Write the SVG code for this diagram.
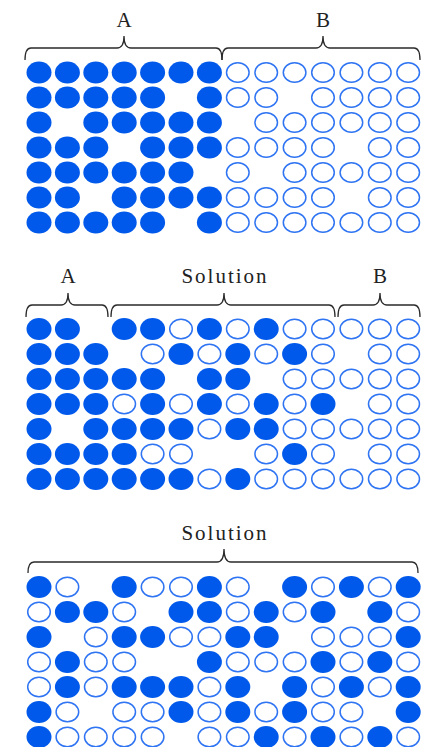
<svg xmlns="http://www.w3.org/2000/svg" width="429" height="747" viewBox="0 0 429 747">
<style>
.f{fill:#0059EB}
.o{fill:none;stroke:#2F74F2;stroke-width:1.5}
.br{fill:none;stroke:#2a2a2a;stroke-width:1.3}
.lb{font-family:"Liberation Serif","Times New Roman",serif;font-size:21px;fill:#222;text-anchor:middle}
</style>
<defs>
<ellipse id="F" class="f" rx="12.5" ry="11"/>
<ellipse id="O" class="o" rx="11.3" ry="9.8"/>
</defs>
<g id="connectors">
<path class="br" d="M25 60 Q25 48 31 48 L117 48 Q124 48 124 36 Q124 48 131 48 L216 48 Q222 48 222 60"/>
<path class="br" d="M222 60 Q222 48 228 48 L316 48 Q323 48 323 36 Q323 48 330 48 L414 48 Q420 48 420 60"/>
<path class="br" d="M26 317 Q26 305 32 305 L61 305 Q68 305 68 293 Q68 305 75 305 L102 305 Q108 305 108 317"/>
<path class="br" d="M111 317 Q111 305 117 305 L217 305 Q224 305 224 293 Q224 305 231 305 L329 305 Q335 305 335 317"/>
<path class="br" d="M338 317 Q338 305 344 305 L373 305 Q380 305 380 293 Q380 305 387 305 L414 305 Q420 305 420 317"/>
<path class="br" d="M28 573 Q28 562 34 562 L217 562 Q224 562 224 549 Q224 562 231 562 L412 562 Q418 562 418 573"/>
</g>
<g id="labels">
<text class="lb" x="124" y="26.5">A</text>
<text class="lb" x="323" y="26.5">B</text>
<text class="lb" x="68" y="283">A</text>
<text class="lb" x="225" y="283" letter-spacing="2">Solution</text>
<text class="lb" x="380" y="283">B</text>
<text class="lb" x="225" y="540" letter-spacing="2">Solution</text>
</g>
<g id="grid1">
<g transform="translate(0,72.5)">
<use href="#F" x="39"/><use href="#F" x="67.4"/><use href="#F" x="95.8"/><use href="#F" x="124.2"/><use href="#F" x="152.6"/><use href="#F" x="181"/><use href="#F" x="209.4"/>
<use href="#O" x="237.8"/><use href="#O" x="266.2"/><use href="#O" x="294.6"/><use href="#O" x="323"/><use href="#O" x="351.4"/><use href="#O" x="379.8"/><use href="#O" x="408.2"/>
</g>
<g transform="translate(0,97.5)">
<use href="#F" x="39"/><use href="#F" x="67.4"/><use href="#F" x="95.8"/><use href="#F" x="124.2"/><use href="#F" x="152.6"/><use href="#F" x="209.4"/>
<use href="#O" x="237.8"/><use href="#O" x="266.2"/><use href="#O" x="323"/><use href="#O" x="351.4"/><use href="#O" x="379.8"/><use href="#O" x="408.2"/>
</g>
<g transform="translate(0,122.5)">
<use href="#F" x="39"/><use href="#F" x="95.8"/><use href="#F" x="124.2"/><use href="#F" x="152.6"/><use href="#F" x="181"/><use href="#F" x="209.4"/>
<use href="#O" x="266.2"/><use href="#O" x="294.6"/><use href="#O" x="323"/><use href="#O" x="351.4"/><use href="#O" x="379.8"/><use href="#O" x="408.2"/>
</g>
<g transform="translate(0,147.5)">
<use href="#F" x="39"/><use href="#F" x="67.4"/><use href="#F" x="95.8"/><use href="#F" x="152.6"/><use href="#F" x="181"/><use href="#F" x="209.4"/>
<use href="#O" x="237.8"/><use href="#O" x="266.2"/><use href="#O" x="294.6"/><use href="#O" x="323"/><use href="#O" x="379.8"/><use href="#O" x="408.2"/>
</g>
<g transform="translate(0,172.5)">
<use href="#F" x="39"/><use href="#F" x="67.4"/><use href="#F" x="95.8"/><use href="#F" x="124.2"/><use href="#F" x="152.6"/><use href="#F" x="181"/>
<use href="#O" x="237.8"/><use href="#O" x="294.6"/><use href="#O" x="323"/><use href="#O" x="351.4"/><use href="#O" x="379.8"/><use href="#O" x="408.2"/>
</g>
<g transform="translate(0,197.5)">
<use href="#F" x="39"/><use href="#F" x="67.4"/><use href="#F" x="124.2"/><use href="#F" x="152.6"/><use href="#F" x="181"/><use href="#F" x="209.4"/>
<use href="#O" x="237.8"/><use href="#O" x="266.2"/><use href="#O" x="294.6"/><use href="#O" x="323"/><use href="#O" x="379.8"/><use href="#O" x="408.2"/>
</g>
<g transform="translate(0,222.5)">
<use href="#F" x="39"/><use href="#F" x="67.4"/><use href="#F" x="95.8"/><use href="#F" x="124.2"/><use href="#F" x="152.6"/><use href="#F" x="209.4"/>
<use href="#O" x="237.8"/><use href="#O" x="266.2"/><use href="#O" x="294.6"/><use href="#O" x="323"/><use href="#O" x="351.4"/><use href="#O" x="379.8"/><use href="#O" x="408.2"/>
</g>
</g>
<g id="grid2">
<g transform="translate(0,329)">
<use href="#F" x="39"/><use href="#F" x="67.4"/>
<use href="#F" x="124.2"/><use href="#F" x="152.6"/><use href="#O" x="181"/><use href="#F" x="209.4"/><use href="#O" x="237.8"/><use href="#F" x="266.2"/><use href="#O" x="294.6"/><use href="#O" x="323"/>
<use href="#O" x="351.4"/><use href="#O" x="379.8"/><use href="#O" x="408.2"/>
</g>
<g transform="translate(0,354)">
<use href="#F" x="39"/><use href="#F" x="67.4"/><use href="#F" x="95.8"/>
<use href="#O" x="152.6"/><use href="#F" x="181"/><use href="#O" x="209.4"/><use href="#F" x="237.8"/><use href="#O" x="266.2"/><use href="#F" x="294.6"/><use href="#O" x="323"/>
<use href="#O" x="379.8"/><use href="#O" x="408.2"/>
</g>
<g transform="translate(0,379)">
<use href="#F" x="39"/><use href="#F" x="67.4"/><use href="#F" x="95.8"/>
<use href="#F" x="124.2"/><use href="#F" x="152.6"/><use href="#F" x="209.4"/><use href="#F" x="237.8"/><use href="#O" x="294.6"/><use href="#O" x="323"/>
<use href="#O" x="351.4"/><use href="#O" x="379.8"/><use href="#O" x="408.2"/>
</g>
<g transform="translate(0,404)">
<use href="#F" x="39"/><use href="#F" x="67.4"/><use href="#F" x="95.8"/>
<use href="#O" x="124.2"/><use href="#F" x="152.6"/><use href="#O" x="181"/><use href="#F" x="209.4"/><use href="#O" x="237.8"/><use href="#F" x="266.2"/><use href="#O" x="294.6"/><use href="#F" x="323"/>
<use href="#O" x="379.8"/><use href="#O" x="408.2"/>
</g>
<g transform="translate(0,429)">
<use href="#F" x="39"/><use href="#F" x="95.8"/>
<use href="#F" x="124.2"/><use href="#F" x="152.6"/><use href="#F" x="181"/><use href="#O" x="209.4"/><use href="#F" x="237.8"/><use href="#F" x="266.2"/><use href="#O" x="294.6"/><use href="#O" x="323"/>
<use href="#O" x="351.4"/><use href="#O" x="379.8"/><use href="#O" x="408.2"/>
</g>
<g transform="translate(0,454)">
<use href="#F" x="39"/><use href="#F" x="67.4"/><use href="#F" x="95.8"/>
<use href="#F" x="124.2"/><use href="#O" x="152.6"/><use href="#O" x="181"/><use href="#O" x="266.2"/><use href="#F" x="294.6"/><use href="#O" x="323"/>
<use href="#O" x="379.8"/><use href="#O" x="408.2"/>
</g>
<g transform="translate(0,479)">
<use href="#F" x="39"/><use href="#F" x="67.4"/><use href="#F" x="95.8"/>
<use href="#F" x="124.2"/><use href="#F" x="152.6"/><use href="#F" x="181"/><use href="#O" x="209.4"/><use href="#F" x="237.8"/><use href="#O" x="266.2"/><use href="#O" x="294.6"/><use href="#O" x="323"/>
<use href="#O" x="351.4"/><use href="#O" x="379.8"/><use href="#O" x="408.2"/>
</g>
</g>
<g id="grid3">
<g transform="translate(0,587)">
<use href="#F" x="39"/><use href="#O" x="67.4"/><use href="#F" x="124.2"/><use href="#O" x="152.6"/><use href="#O" x="181"/><use href="#F" x="209.4"/><use href="#O" x="237.8"/><use href="#F" x="294.6"/><use href="#O" x="323"/><use href="#F" x="351.4"/><use href="#O" x="379.8"/><use href="#F" x="408.2"/>
</g>
<g transform="translate(0,612)">
<use href="#O" x="39"/><use href="#F" x="67.4"/><use href="#F" x="95.8"/><use href="#O" x="124.2"/><use href="#F" x="181"/><use href="#F" x="209.4"/><use href="#O" x="237.8"/><use href="#F" x="266.2"/><use href="#O" x="294.6"/><use href="#F" x="323"/><use href="#F" x="379.8"/><use href="#O" x="408.2"/>
</g>
<g transform="translate(0,637)">
<use href="#F" x="39"/><use href="#O" x="95.8"/><use href="#F" x="124.2"/><use href="#F" x="152.6"/><use href="#O" x="181"/><use href="#O" x="209.4"/><use href="#F" x="237.8"/><use href="#F" x="266.2"/><use href="#O" x="323"/><use href="#O" x="351.4"/><use href="#O" x="379.8"/><use href="#F" x="408.2"/>
</g>
<g transform="translate(0,662)">
<use href="#O" x="39"/><use href="#F" x="67.4"/><use href="#O" x="95.8"/><use href="#O" x="124.2"/><use href="#F" x="209.4"/><use href="#O" x="237.8"/><use href="#O" x="266.2"/><use href="#O" x="294.6"/><use href="#F" x="323"/><use href="#O" x="351.4"/><use href="#F" x="379.8"/><use href="#O" x="408.2"/>
</g>
<g transform="translate(0,687)">
<use href="#O" x="39"/><use href="#F" x="67.4"/><use href="#O" x="95.8"/><use href="#F" x="124.2"/><use href="#F" x="152.6"/><use href="#F" x="181"/><use href="#O" x="209.4"/><use href="#F" x="237.8"/><use href="#F" x="294.6"/><use href="#O" x="323"/><use href="#F" x="351.4"/><use href="#O" x="379.8"/><use href="#F" x="408.2"/>
</g>
<g transform="translate(0,712)">
<use href="#F" x="39"/><use href="#O" x="67.4"/><use href="#O" x="124.2"/><use href="#O" x="152.6"/><use href="#F" x="181"/><use href="#O" x="209.4"/><use href="#F" x="237.8"/><use href="#O" x="266.2"/><use href="#F" x="294.6"/><use href="#O" x="323"/><use href="#O" x="351.4"/><use href="#F" x="408.2"/>
</g>
<g transform="translate(0,737)">
<use href="#F" x="39"/><use href="#O" x="67.4"/><use href="#O" x="95.8"/><use href="#O" x="124.2"/><use href="#O" x="152.6"/><use href="#O" x="209.4"/><use href="#O" x="237.8"/><use href="#F" x="266.2"/><use href="#O" x="294.6"/><use href="#F" x="323"/><use href="#O" x="351.4"/><use href="#F" x="379.8"/><use href="#O" x="408.2"/>
</g>
</g>
</svg>
